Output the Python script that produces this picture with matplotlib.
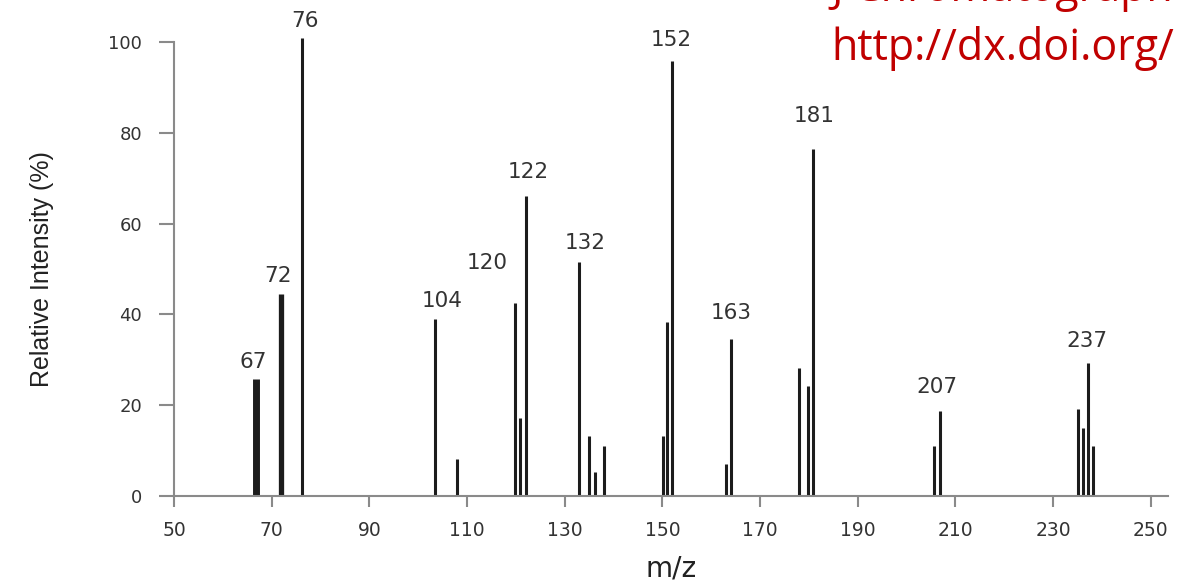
import matplotlib
matplotlib.use('Agg')
import matplotlib.pyplot as plt

# peaks (m/z, relative intensity %)
mz = [66.7, 72.0, 76.3, 103.4, 107.9, 119.8, 120.9, 122.0, 132.9, 135.0, 136.2, 138.1,
      150.1, 151.0, 152.0, 163.1, 164.0, 177.9, 179.9, 180.8, 205.7, 206.9,
      235.2, 236.2, 237.2, 238.2]
intensity = [25.7, 44.4, 100.9, 38.9, 8.1, 42.4, 17.1, 66.1, 51.5, 13.2, 5.2, 11.0,
             13.2, 38.2, 95.8, 7.1, 34.6, 28.1, 24.2, 76.4, 11.0, 18.7,
             19.1, 14.9, 29.2, 11.0]

# labelled peaks: text and index of the peak it belongs to
peak_labels = ['67', '72', '76', '104', '120', '122', '132', '152', '163', '181', '207', '237']
label_peak = [0, 1, 2, 3, 5, 7, 8, 14, 16, 19, 21, 24]

x_ticks = [50, 70, 90, 110, 130, 150, 170, 190, 210, 230, 250]
y_ticks = [0, 20, 40, 60, 80, 100]

# style / layout
bar_lw = [5.0, 3.8] + [2.2] * (len(mz) - 2)
label_offset = [(-2, 17), (-3, 18), (3, 17), (7, 18), (-28, 40), (3, 24),
                (6, 19), (-1, 21), (0, 26), (1, 33), (-3, 24), (-1, 22)]
axis_grey = '#8a8a8a'
text_grey = '#333333'

fig = plt.figure(figsize=(11.8, 5.83), dpi=100)
ax = fig.add_axes([174 / 1180, 87.3 / 583, 993.8 / 1180, 453.5 / 583])

ax.vlines(mz, 0, intensity, colors='#1c1c1c', linewidths=bar_lw, clip_on=False)

for lab, i, (dx, dy) in zip(peak_labels, label_peak, label_offset):
    ax.annotate(lab, xy=(mz[i], intensity[i]), xytext=(dx, dy),
                textcoords='offset pixels', ha='center', va='center',
                fontsize=15.5, color=text_grey, family='DejaVu Sans',
                annotation_clip=False)

ax.set_xlim(50, 253.5)
ax.set_ylim(0, 100)
ax.set_xticks(x_ticks)
ax.set_yticks(y_ticks)
for s in ['top', 'right']:
    ax.spines[s].set_visible(False)
for s in ['left', 'bottom']:
    ax.spines[s].set_color(axis_grey)
    ax.spines[s].set_linewidth(1.5)
ax.tick_params(axis='x', length=8, width=1.5, color=axis_grey, pad=10,
               labelsize=13.5, labelcolor=text_grey)
ax.tick_params(axis='y', length=11, width=1.5, color=axis_grey, pad=12,
               labelsize=13, labelcolor=text_grey)

ax.set_ylabel('Relative Intensity (%)', family='Liberation Sans', fontsize=18,
              color='#222222', labelpad=39)
ax.set_xlabel('m/z', fontsize=20, color='#222222', labelpad=11)

# red citation text at the top right of the slide (first line cut by the top edge)
fig.text(831 / 1180, 1 - 60 / 583, 'http://dx.doi.org/', family='Open Sans',
         fontsize=31, color='#c00000', ha='left', va='baseline')
fig.text(831 / 1180, 1 - 1 / 583, 'J Chromatograph A', family='Open Sans',
         fontsize=31, color='#c00000', ha='left', va='baseline')

fig.savefig('out.png', dpi=100)
